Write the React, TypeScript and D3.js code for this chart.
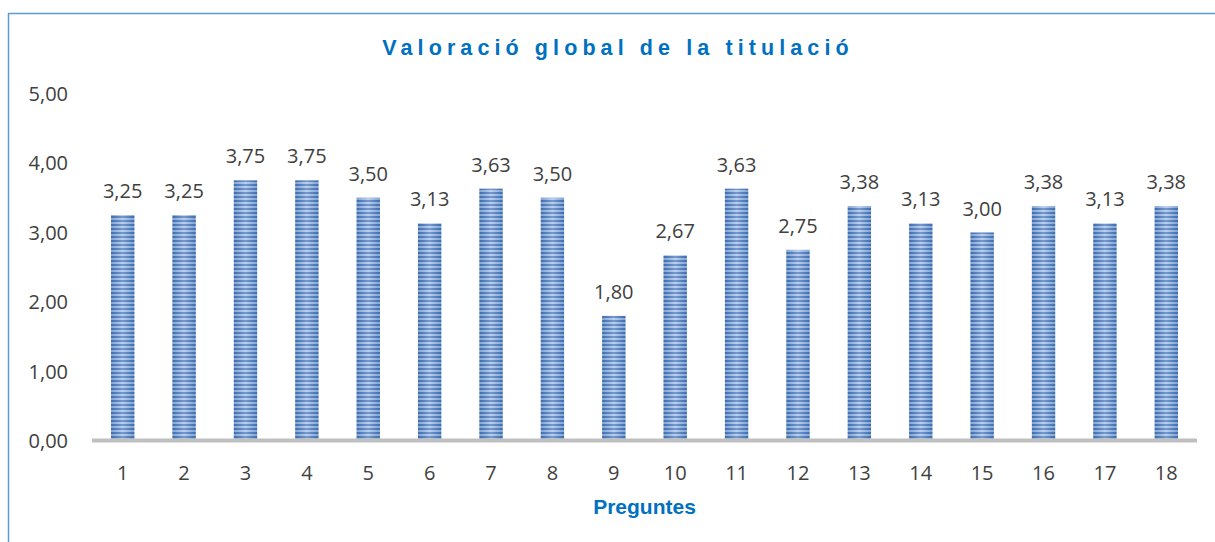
import React from "react";
import * as d3 from "d3";

const categories = ["1","2","3","4","5","6","7","8","9","10","11","12","13","14","15","16","17","18"];
const values = [3.25,3.25,3.75,3.75,3.5,3.13,3.63,3.5,1.8,2.67,3.63,2.75,3.38,3.13,3,3.38,3.13,3.38];
const yTicks = [0,1,2,3,4,5];
const title = "Valoració global de la titulació";
const xTitle = "Preguntes";

const W = 1215, H = 542;
const fmt = (v: number) => v.toFixed(2).replace(".", ",");

export default function App() {
  const x = d3.scaleBand<string>().domain(categories).range([92, 1197]).paddingInner(0.62).paddingOuter(0.31);
  const y = d3.scaleLinear().domain([0, 5]).range([441, 93.5]);
  const font = "'Open Sans', sans-serif";
  const fs = 20;
  return (
    <svg width={W} height={H} style={{ position: "absolute", left: 0, top: 0, background: "#fff" }}>
      <defs>
        <pattern id="stripes" patternUnits="userSpaceOnUse" width="10" height="4">
          <rect x="0" y="0" width="10" height="2" fill="#4677bd" />
          <rect x="0" y="2" width="10" height="2" fill="#a3bfe6" />
        </pattern>
        <linearGradient id="shine" x1="0" x2="1" y1="0" y2="0">
          <stop offset="0" stopColor="#1f4e8c" stopOpacity="0.25" />
          <stop offset="0.5" stopColor="#fff" stopOpacity="0.25" />
          <stop offset="1" stopColor="#1f4e8c" stopOpacity="0.25" />
        </linearGradient>
      </defs>
      <line x1={8.5} y1={13} x2={8.5} y2={H} stroke="#5b9bd5" strokeWidth={1.5} />
      <line x1={8} y1={13.5} x2={W} y2={13.5} stroke="#5b9bd5" strokeWidth={1.5} />
      <text x={618} y={55} textAnchor="middle" fontFamily="Arial, 'Liberation Sans', sans-serif" fontWeight="bold" fontSize={21.5} letterSpacing={5.1} fill="#0070c0">{title}</text>
      {yTicks.map(t => (
        <text key={t} x={68} y={y(t) + 7} textAnchor="end" fontFamily={font} fontSize={fs} fill="#404040">{fmt(t)}</text>
      ))}
      {categories.map((c, i) => {
        const bx = x(c)!, bw = x.bandwidth(), by = y(values[i]);
        const bh = y(0) - by;
        return (
          <g key={c}>
            <rect x={bx} y={by} width={bw} height={bh} fill="url(#stripes)" />
            <rect x={bx} y={by} width={bw} height={bh} fill="url(#shine)" />
            <text x={bx + bw / 2} y={by - 17} textAnchor="middle" fontFamily={font} fontSize={fs} fill="#404040">{fmt(values[i])}</text>
            <text x={bx + bw / 2} y={479.5} textAnchor="middle" fontFamily={font} fontSize={fs} fill="#404040">{c}</text>
          </g>
        );
      })}
      <line x1={92} y1={440.5} x2={1197} y2={440.5} stroke="#bfbfbf" strokeWidth={4} />
      <text x={644.5} y={514} textAnchor="middle" fontFamily="Arial, 'Liberation Sans', sans-serif" fontWeight="bold" fontSize={21} fill="#0070c0">{xTitle}</text>
    </svg>
  );
}
